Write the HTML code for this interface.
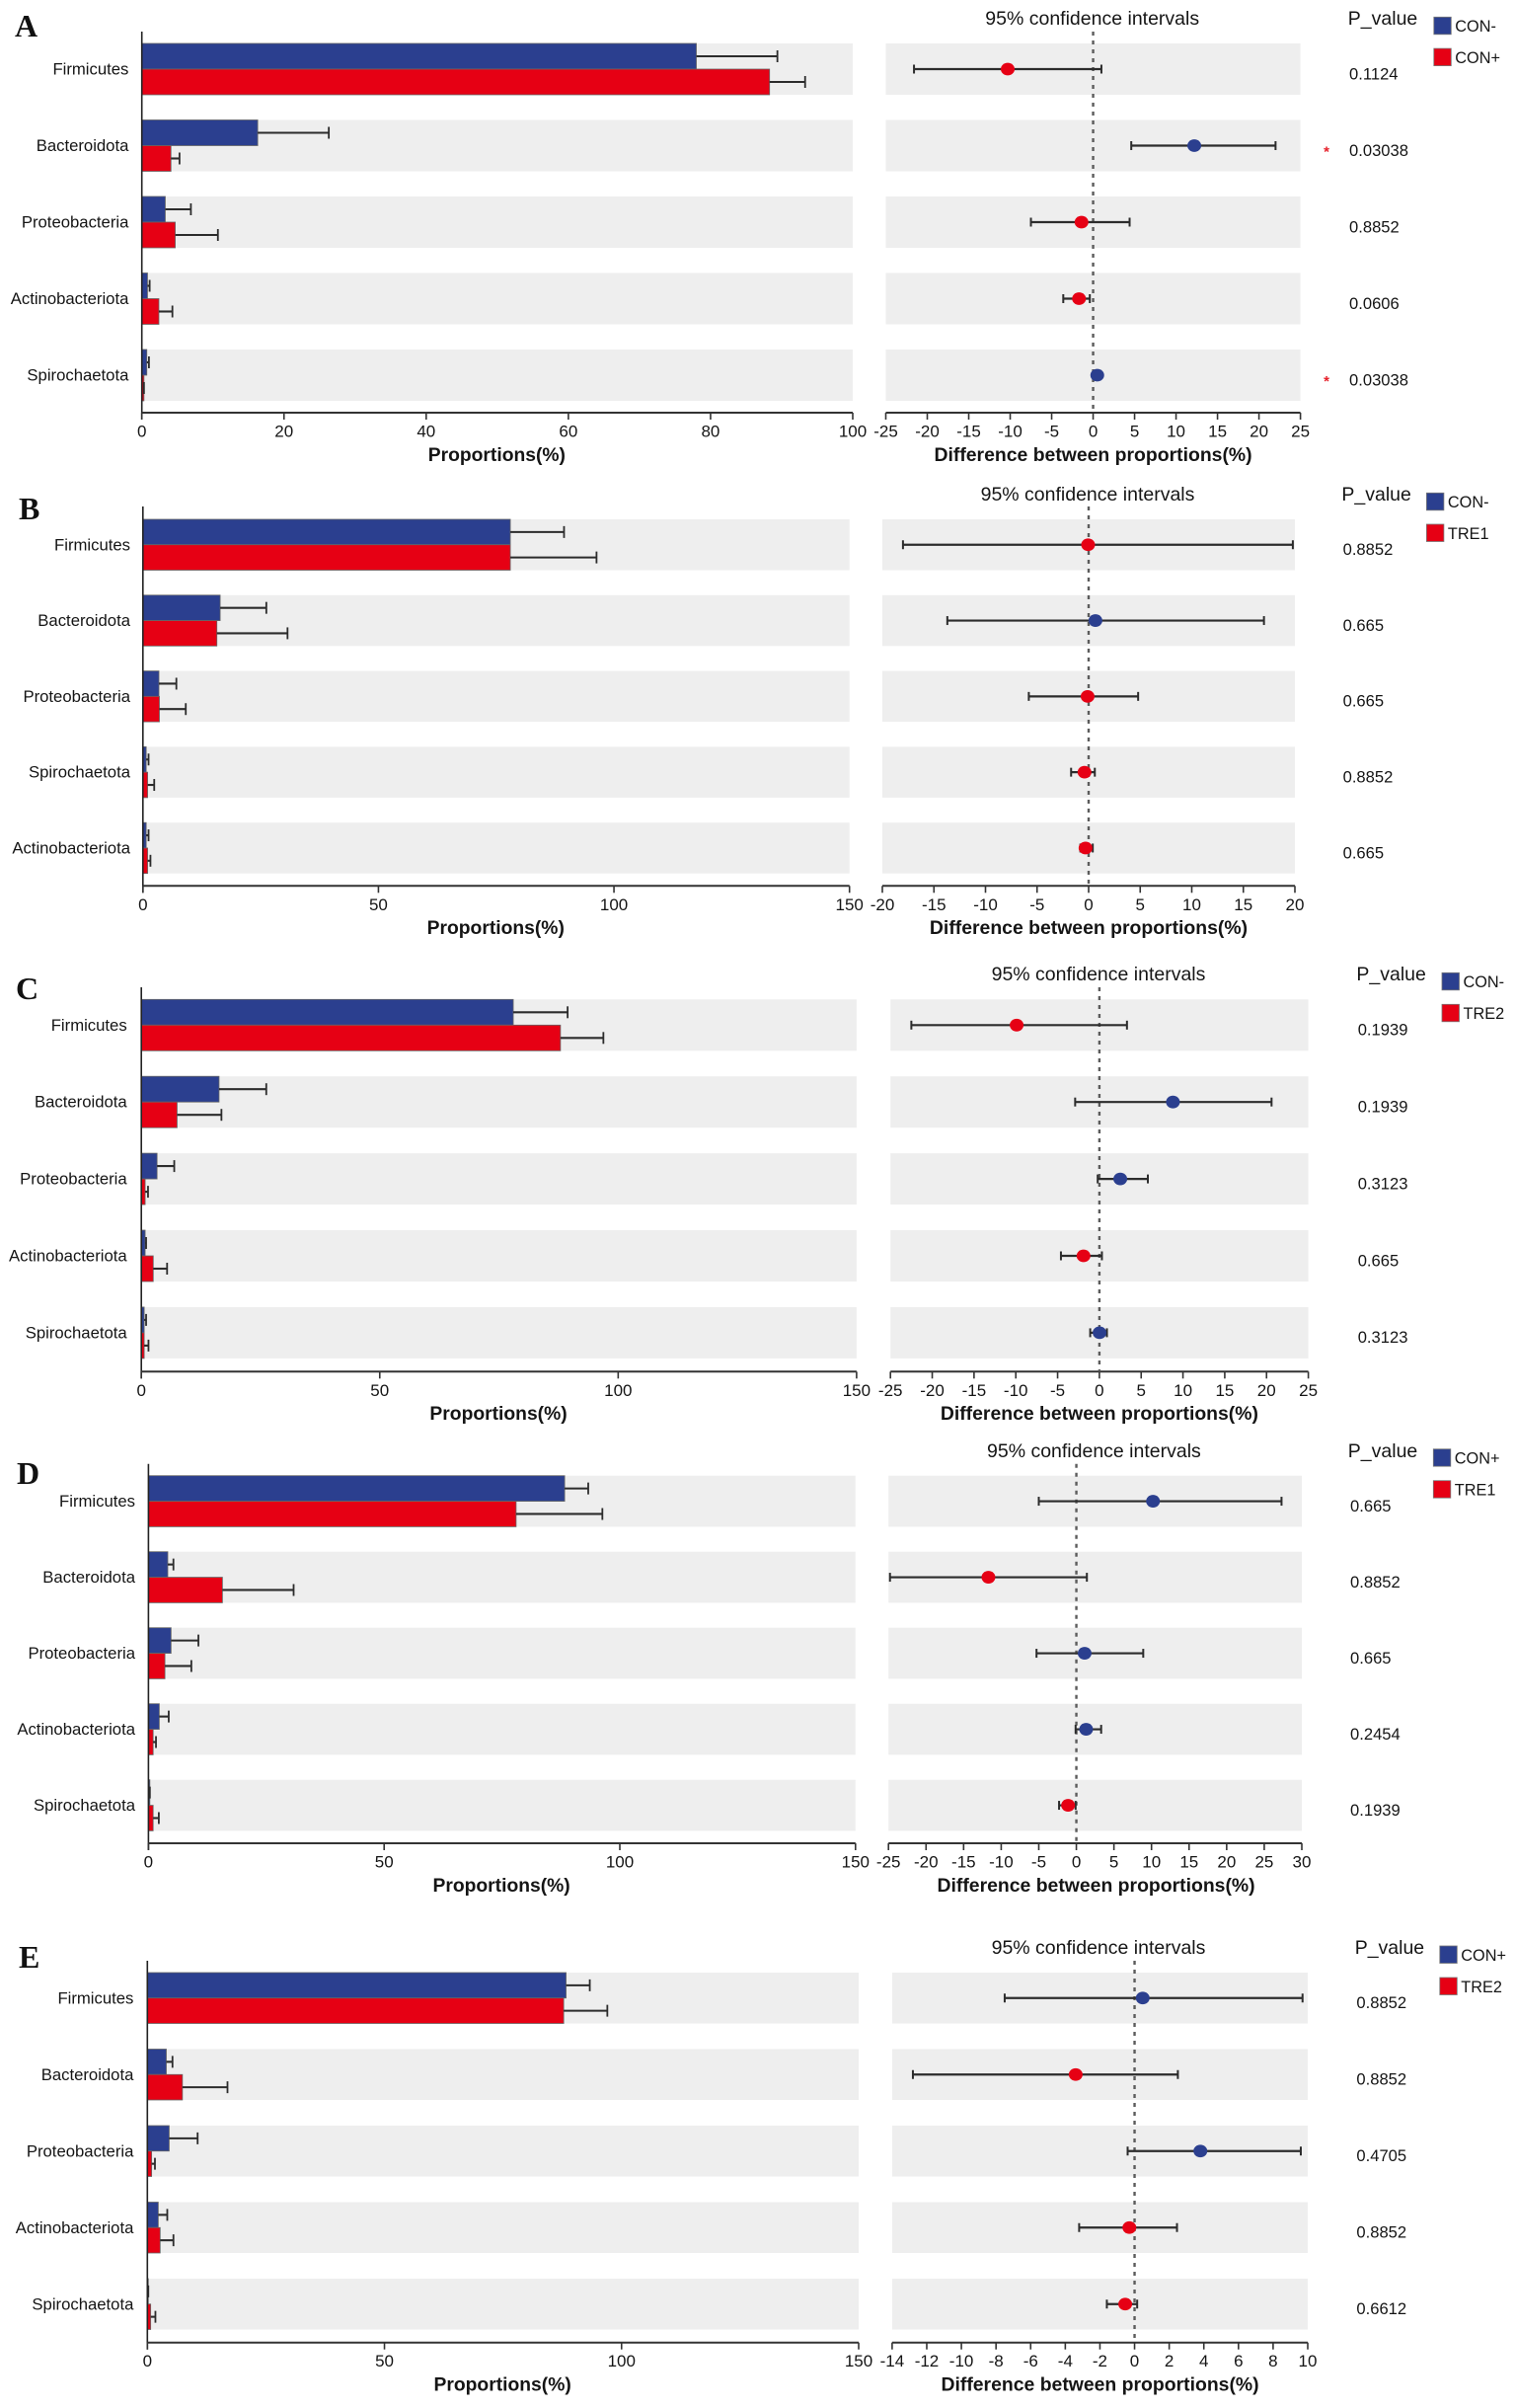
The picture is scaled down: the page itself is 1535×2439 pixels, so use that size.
<!DOCTYPE html>
<html lang="en">
<head>
<meta charset="utf-8">
<title>Phylum proportions and confidence intervals</title>
<style>
html,body{margin:0;padding:0;background:#fff;}
#figure{display:block;width:1535px;height:2439px;filter:blur(0.35px);}
text{font-family:"Liberation Sans",sans-serif;fill:#151515;}
text.panel-letter{font-family:"Liberation Serif",serif;font-weight:bold;fill:#111;}
</style>
</head>
<body>
<svg id="figure" xmlns="http://www.w3.org/2000/svg" width="1535" height="2439" viewBox="0 0 1535 2439"></svg>
<script>
// Panel A: CON- vs CON+
const categoriesA = ["Firmicutes","Bacteroidota","Proteobacteria","Actinobacteriota","Spirochaetota"];
const blueMeansA = [78,16.3,3.3,0.8,0.7];
const blueErrA = [89.4,26.3,6.9,1.1,1.0];
const redMeansA = [88.3,4.1,4.7,2.4,0.3];
const redErrA = [93.3,5.3,10.7,4.3,0.3];
const diffA = [-10.3,12.2,-1.4,-1.7,0.5];
const lowerA = [-21.6,4.6,-7.5,-3.6,0.3];
const upperA = [1.0,22,4.4,-0.4,0.8];
const pValuesA = ["0.1124","0.03038","0.8852","0.0606","0.03038"];
const leftTicksA = [0,20,40,60,80,100];
const rightTicksA = [-25,-20,-15,-10,-5,0,5,10,15,20,25];
const legendA = ["CON-","CON+"];

// Panel B: CON- vs TRE1
const categoriesB = ["Firmicutes","Bacteroidota","Proteobacteria","Spirochaetota","Actinobacteriota"];
const blueMeansB = [78,16.4,3.4,0.7,0.7];
const blueErrB = [89.4,26.2,7.1,1.2,1.2];
const redMeansB = [78,15.7,3.5,1.0,1.0];
const redErrB = [96.3,30.7,9.1,2.4,1.6];
const diffB = [-0.05,0.66,-0.1,-0.4,-0.3];
const lowerB = [-18,-13.7,-5.8,-1.7,-0.8];
const upperB = [19.8,17,4.8,0.6,0.4];
const pValuesB = ["0.8852","0.665","0.665","0.8852","0.665"];
const leftTicksB = [0,50,100,150];
const rightTicksB = [-20,-15,-10,-5,0,5,10,15,20];
const legendB = ["CON-","TRE1"];

// Panel C: CON- vs TRE2
const categoriesC = ["Firmicutes","Bacteroidota","Proteobacteria","Actinobacteriota","Spirochaetota"];
const blueMeansC = [78,16.3,3.3,0.8,0.6];
const blueErrC = [89.4,26.2,6.9,1.0,1.0];
const redMeansC = [87.9,7.5,0.8,2.5,0.6];
const redErrC = [96.9,16.8,1.4,5.4,1.5];
const diffC = [-9.9,8.8,2.5,-1.9,0.02];
const lowerC = [-22.5,-2.9,-0.2,-4.6,-1.1];
const upperC = [3.3,20.6,5.8,0.3,0.9];
const pValuesC = ["0.1939","0.1939","0.3123","0.665","0.3123"];
const leftTicksC = [0,50,100,150];
const rightTicksC = [-25,-20,-15,-10,-5,0,5,10,15,20,25];
const legendC = ["CON-","TRE2"];

// Panel D: CON+ vs TRE1
const categoriesD = ["Firmicutes","Bacteroidota","Proteobacteria","Actinobacteriota","Spirochaetota"];
const blueMeansD = [88.3,4.1,4.8,2.3,0.3];
const blueErrD = [93.3,5.3,10.6,4.3,0.3];
const redMeansD = [78,15.7,3.5,1.0,1.0];
const redErrD = [96.3,30.8,9.1,1.6,2.2];
const diffD = [10.2,-11.7,1.1,1.3,-1.1];
const lowerD = [-5,-24.8,-5.3,-0.1,-2.3];
const upperD = [27.3,1.4,8.9,3.3,-0.1];
const pValuesD = ["0.665","0.8852","0.665","0.2454","0.1939"];
const leftTicksD = [0,50,100,150];
const rightTicksD = [-25,-20,-15,-10,-5,0,5,10,15,20,25,30];
const legendD = ["CON+","TRE1"];

// Panel E: CON+ vs TRE2
const categoriesE = ["Firmicutes","Bacteroidota","Proteobacteria","Actinobacteriota","Spirochaetota"];
const blueMeansE = [88.3,4.0,4.6,2.3,0.2];
const blueErrE = [93.3,5.3,10.6,4.2,0.2];
const redMeansE = [87.8,7.4,0.9,2.7,0.7];
const redErrE = [97,16.9,1.6,5.5,1.7];
const diffE = [0.47,-3.4,3.8,-0.3,-0.54];
const lowerE = [-7.5,-12.8,-0.4,-3.2,-1.6];
const upperE = [9.7,2.5,9.6,2.45,0.15];
const pValuesE = ["0.8852","0.8852","0.4705","0.8852","0.6612"];
const leftTicksE = [0,50,100,150];
const rightTicksE = [-14,-12,-10,-8,-6,-4,-2,0,2,4,6,8,10];
const legendE = ["CON+","TRE2"];

const significantP = "0.03038";
const BLUE = "#2b3f8f", RED = "#e60014", BAND = "#eeeeee", INK = "#2c2c2c";
const NS = "http://www.w3.org/2000/svg";
const svg = document.getElementById("figure");

function mk(tag, parent, attrs) {
  const e = document.createElementNS(NS, tag);
  for (const k in attrs) e.setAttribute(k, attrs[k]);
  parent.appendChild(e);
  return e;
}
function scale(d0, d1, r0, r1) {
  return v => r0 + (v - d0) / (d1 - d0) * (r1 - r0);
}
function label(parent, x, y, str, size, anchor, weight) {
  const attrs = {x: x, y: y + size * 0.35, "font-size": size, "text-anchor": anchor};
  if (weight) attrs["font-weight"] = weight;
  const t = mk("text", parent, attrs);
  t.textContent = str;
  return t;
}

function drawPanel(p) {
  const g = mk("g", svg, {});
  
  

  const letter = mk("text", g, {x: p.letterX, y: p.letterBase, "font-size": 32, "class": "panel-letter"});
  letter.textContent = p.letter;
  
  

  const lt = p.leftTicks, rt = p.rightTicks;
  const xL = scale(lt[0], lt[lt.length - 1], p.lx0, p.lx1);
  const xR = scale(rt[0], rt[rt.length - 1], p.rx0, p.rx1);
  const tickY = p.axisY + 18.5, titleY = p.axisY + 42.5;

  p.categories.forEach((cat, i) => {
    const top = p.bandTop + i * p.pitch, mid = top + p.bandH / 2;

    const bandL = mk("rect", g, {x: p.lx0, y: top, width: p.lx1 - p.lx0, height: p.bandH, fill: BAND});
    
    

    const bandR = mk("rect", g, {x: p.rx0, y: top, width: p.rx1 - p.rx0, height: p.bandH, fill: BAND});
    
    

    const catText = label(g, p.labelRight, mid - 0.3, cat, 16.7, "end");
    
    

    const series = [
      {mean: p.blueMeans[i], err: p.blueErr[i], color: BLUE, y: top, h: p.bandH / 2, name: 'blue'},
      {mean: p.redMeans[i], err: p.redErr[i], color: RED, y: mid, h: p.bandH / 2, name: 'red'}
    ];
    series.forEach(s => {
      const bar = mk("rect", g, {x: p.lx0, y: s.y, width: Math.max(0, xL(s.mean) - p.lx0), height: s.h, fill: s.color, stroke: "#666", "stroke-width": 0.8});
      
      

      const cy = s.y + s.h / 2;
      const errLine = mk("line", g, {x1: xL(s.mean), x2: xL(s.err), y1: cy, y2: cy, stroke: INK, "stroke-width": 2.1});
      
      

      const errCap = mk("line", g, {x1: xL(s.err), x2: xL(s.err), y1: cy - 6, y2: cy + 6, stroke: INK, "stroke-width": 1.8});
      
      
    });

    const pText = label(g, p.pX, mid + 4.5, p.pValues[i], 16.6, "start");
    
    

    if (p.pValues[i] === significantP) {
      const star = mk("text", g, {x: p.pX - 23, y: mid + 11, "font-size": 15, "font-weight": "bold", "text-anchor": "middle", style: "fill:#e6202a"});
      star.textContent = "*";
      
      
    }
  });

  // left axes
  const yAxis = mk("line", g, {x1: p.lx0, x2: p.lx0, y1: p.axisTop, y2: p.axisY + 7, stroke: "#222", "stroke-width": 1.6});
  
  

  const xAxisL = mk("line", g, {x1: p.lx0, x2: p.lx1, y1: p.axisY, y2: p.axisY, stroke: "#333", "stroke-width": 2});
  
  

  lt.forEach(t => {
    const tick = mk("line", g, {x1: xL(t), x2: xL(t), y1: p.axisY, y2: p.axisY + 7, stroke: "#333", "stroke-width": 1.6});
    
    

    const tl = label(g, xL(t), tickY, String(t), 17, "middle");
    
    
  });

  const titleL = label(g, (p.lx0 + p.lx1) / 2 - 0.5, titleY - 0.5, "Proportions(%)", 19.3, "middle", "bold");
  
  

  // right axis
  const xAxisR = mk("line", g, {x1: p.rx0, x2: p.rx1, y1: p.axisY, y2: p.axisY, stroke: "#333", "stroke-width": 2});
  
  

  rt.forEach(t => {
    const tick = mk("line", g, {x1: xR(t), x2: xR(t), y1: p.axisY, y2: p.axisY + 7, stroke: "#333", "stroke-width": 1.6});
    
    

    const tl = label(g, xR(t), tickY, String(t), 17, "middle");
    
    
  });

  const titleR = label(g, xR(0) + p.rightTitleShift, titleY - 0.5, "Difference between proportions(%)", 19.4, "middle", "bold");
  
  

  const zero = mk("line", g, {x1: xR(0), x2: xR(0), y1: p.axisTop, y2: p.axisY, stroke: "#5c5c5c", "stroke-width": 2.4, "stroke-dasharray": "4 5"});
  
  

  p.categories.forEach((cat, i) => {
    const mid = p.bandTop + i * p.pitch + p.bandH / 2;
    const ci = mk("line", g, {x1: xR(p.lower[i]), x2: xR(p.upper[i]), y1: mid, y2: mid, stroke: INK, "stroke-width": 2.2});
    
    

    const capLo = mk("line", g, {x1: xR(p.lower[i]), x2: xR(p.lower[i]), y1: mid - 4.5, y2: mid + 4.5, stroke: INK, "stroke-width": 2});
    
    

    const capHi = mk("line", g, {x1: xR(p.upper[i]), x2: xR(p.upper[i]), y1: mid - 4.5, y2: mid + 4.5, stroke: INK, "stroke-width": 2});
    
    

    const dot = mk("ellipse", g, {cx: xR(p.diff[i]), cy: mid, rx: 7, ry: 6.4, fill: p.diff[i] >= 0 ? BLUE : RED});
    
    
  });

  const ciTitle = label(g, p.ciTitleX, p.headY, "95% confidence intervals", 19.5, "middle");
  
  

  const pHead = label(g, p.pHeadX, p.headY, "P_value", 19.5, "start");
  
  

  // legend
  p.legend.forEach((name, i) => {
    const top = p.legendTop + i * p.legendPitch;
    const sw = mk("rect", g, {x: p.legendX, y: top, width: 17.5, height: 17.5, fill: i === 0 ? BLUE : RED, stroke: "#777", "stroke-width": 0.8});
    
    

    const tx = label(g, p.legendX + 21.5, top + 9.2, name, 16.3, "start");
    
    
  });
}

drawPanel({letter:"A", letterX:15, letterBase:37,
  categories:categoriesA, blueMeans:blueMeansA, blueErr:blueErrA, redMeans:redMeansA, redErr:redErrA,
  diff:diffA, lower:lowerA, upper:upperA, pValues:pValuesA, leftTicks:leftTicksA, rightTicks:rightTicksA, legend:legendA,
  lx0:143.7, lx1:864, rx0:897.5, rx1:1317.6, bandTop:44, pitch:77.5, bandH:52, axisY:418, axisTop:32, labelRight:130.4,
  pX:1367, pHeadX:1365.8, headY:18, ciTitleX:1106.7, rightTitleShift:0, legendX:1452.8, legendTop:17.3, legendPitch:31.8});

drawPanel({letter:"B", letterX:19, letterBase:526,
  categories:categoriesB, blueMeans:blueMeansB, blueErr:blueErrB, redMeans:redMeansB, redErr:redErrB,
  diff:diffB, lower:lowerB, upper:upperB, pValues:pValuesB, leftTicks:leftTicksB, rightTicks:rightTicksB, legend:legendB,
  lx0:144.8, lx1:860.7, rx0:894, rx1:1312, bandTop:526, pitch:76.8, bandH:51.5, axisY:897.3, axisTop:513, labelRight:132,
  pX:1360.6, pHeadX:1359.4, headY:500, ciTitleX:1102, rightTitleShift:0, legendX:1445.4, legendTop:499.3, legendPitch:31.7});

drawPanel({letter:"C", letterX:16, letterBase:1012,
  categories:categoriesC, blueMeans:blueMeansC, blueErr:blueErrC, redMeans:redMeansC, redErr:redErrC,
  diff:diffC, lower:lowerC, upper:upperC, pValues:pValuesC, leftTicks:leftTicksC, rightTicks:rightTicksC, legend:legendC,
  lx0:143.2, lx1:867.9, rx0:902.2, rx1:1325.6, bandTop:1012.3, pitch:77.9, bandH:52, axisY:1389.3, axisTop:1000, labelRight:128.7,
  pX:1375.7, pHeadX:1374.4, headY:986, ciTitleX:1113, rightTitleShift:0, legendX:1461, legendTop:985.3, legendPitch:32});

drawPanel({letter:"D", letterX:17, letterBase:1503,
  categories:categoriesD, blueMeans:blueMeansD, blueErr:blueErrD, redMeans:redMeansD, redErr:redErrD,
  diff:diffD, lower:lowerD, upper:upperD, pValues:pValuesD, leftTicks:leftTicksD, rightTicks:rightTicksD, legend:legendD,
  lx0:150.4, lx1:866.8, rx0:900.2, rx1:1319, bandTop:1494.7, pitch:77, bandH:51.7, axisY:1867, axisTop:1482.7, labelRight:137,
  pX:1368, pHeadX:1365.8, headY:1469, ciTitleX:1108.4, rightTitleShift:20, legendX:1452.3, legendTop:1467.7, legendPitch:32});

drawPanel({letter:"E", letterX:19, letterBase:1993,
  categories:categoriesE, blueMeans:blueMeansE, blueErr:blueErrE, redMeans:redMeansE, redErr:redErrE,
  diff:diffE, lower:lowerE, upper:upperE, pValues:pValuesE, leftTicks:leftTicksE, rightTicks:rightTicksE, legend:legendE,
  lx0:149.3, lx1:870, rx0:903.9, rx1:1325, bandTop:1998, pitch:77.5, bandH:51.5, axisY:2372.7, axisTop:1986, labelRight:135.4,
  pX:1374.4, pHeadX:1372.7, headY:1972.3, ciTitleX:1113, rightTitleShift:-35, legendX:1458.8, legendTop:1971, legendPitch:32});
</script>
</body>
</html>
